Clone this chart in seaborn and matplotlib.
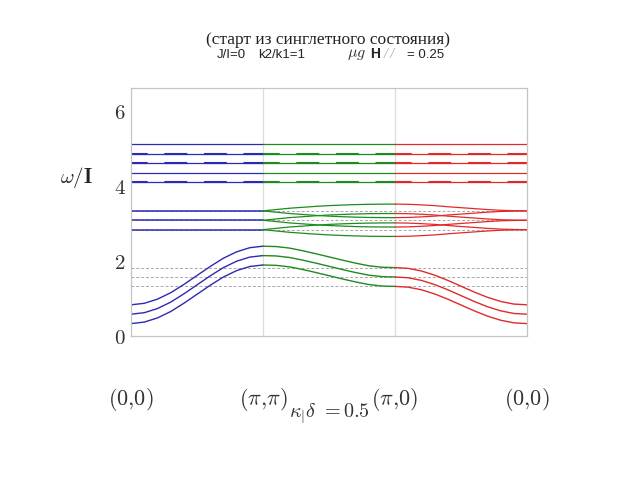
import numpy as np
import pandas as pd
import matplotlib
matplotlib.use("Agg")
import matplotlib.pyplot as plt
import seaborn as sns

# ---------------- data ----------------
seg_t = [0.0, 0.1, 0.2, 0.3, 0.4, 0.5, 0.6, 0.7, 0.8, 0.9, 1.0]
seg_colors = ["#2a2ab4", "#1f8a1f", "#e02a2a"]

# lower (singlet-triplet) band, centre branch on each path segment
low_seg1 = [0.58, 0.62, 0.73, 0.90, 1.12, 1.36, 1.60, 1.82, 1.99, 2.10, 2.14]
low_seg2 = [2.14, 2.13, 2.09, 2.02, 1.94, 1.855, 1.77, 1.69, 1.62, 1.58, 1.57]
low_seg3 = [1.57, 1.55, 1.48, 1.37, 1.23, 1.075, 0.92, 0.78, 0.67, 0.60, 0.58]
zeeman = [0.25, 0.0, -0.25]

# middle band: three levels, each splits on (pi,pi)-(pi,0)-(0,0)
mid_levels = [3.33, 3.08, 2.83]
mid_split_seg2 = [0.0, 0.035, 0.07, 0.095, 0.12, 0.14, 0.155, 0.167, 0.175, 0.179, 0.18]
mid_split_seg3 = [0.18, 0.175, 0.16, 0.14, 0.11, 0.085, 0.06, 0.035, 0.015, 0.005, 0.0]

# upper flat levels
upper_levels = [5.1, 4.85, 4.6, 4.35, 4.1]
upper_dashed = [False, True, True, False, True]

# gray dashed reference levels
ref_levels = [1.82, 1.57, 1.33, 3.33, 3.08, 2.83]

y_ticks = [0, 2, 4, 6]
x_ticks = [0, 1, 2, 3]
x_labels = [r"$(0{,}0)$", r"$(\pi{,}\pi)$", r"$(\pi{,}0)$", r"$(0{,}0)$"]

# ---------------- figure ----------------
sns.set_style("white")
plt.rcParams["mathtext.fontset"] = "cm"
plt.rcParams["font.family"] = ["DejaVu Sans"]

fig = plt.figure(figsize=(6.4, 4.8), dpi=100)
ax = fig.add_axes([131 / 640, 1 - 336 / 480, (527 - 131) / 640, (336 - 88) / 480])

ax.set_xlim(0, 3)
ax.set_ylim(0, 6.6)

# vertical separators
for xv in [1, 2]:
    ax.axvline(xv, color="#dcdcdc", lw=0.9, zorder=0)

# gray dashed reference lines
ax.hlines(ref_levels, 0, 3, colors="#a8a8a8", linestyles=(0, (3, 2)), lw=0.7, zorder=1)

t = np.array(seg_t)
lw_c = 1.0

# lower band
for seg, vals in enumerate([low_seg1, low_seg2, low_seg3]):
    for dz in zeeman:
        sns.lineplot(x=seg + t, y=np.array(vals) + dz, color=seg_colors[seg],
                     lw=lw_c, ax=ax, legend=False, sort=False)

# middle band
for lev in mid_levels:
    sns.lineplot(x=0 + t, y=[lev] * len(t), color=seg_colors[0], lw=1.1,
                 ax=ax, legend=False, sort=False)
    for seg, split in [(1, mid_split_seg2), (2, mid_split_seg3)]:
        for sgn in [1, -1]:
            sns.lineplot(x=seg + t, y=lev + sgn * np.array(split),
                         color=seg_colors[seg], lw=0.9, ax=ax, legend=False, sort=False)

# upper band
for lev, dsh in zip(upper_levels, upper_dashed):
    for seg in range(3):
        sns.lineplot(x=[seg, seg + 1], y=[lev, lev], color=seg_colors[seg],
                     lw=0.9, ax=ax, legend=False, sort=False)
        if dsh:
            sns.lineplot(x=[seg, seg + 1], y=[lev, lev], color=seg_colors[seg],
                         lw=1.5, linestyle=(3, (11, 8)), ax=ax, legend=False, sort=False)

# axes styling
for sp in ax.spines.values():
    sp.set_color("#c4c4c4")
    sp.set_linewidth(0.9)
ax.set_yticks(y_ticks)
ax.set_yticklabels([rf"${v}$" for v in y_ticks], fontsize=15, color="#333333")
ax.tick_params(axis="y", direction="in", length=3, width=0.7, color="#b0b0b0", pad=4)
ax.set_xticks(x_ticks)
ax.set_xticklabels(x_labels, fontsize=16, color="#333333")
ax.tick_params(axis="x", length=0, pad=36)
ax.set_xlabel("")
ax.set_ylabel("")

# y label
fig.text(77 / 640, 1 - 177 / 480, r"$\mathbf{\omega/I}$", fontsize=15,
         ha="center", va="center", color="#222222")

# kappa delta label
fig.text(329 / 640, 1 - 413 / 480, r"$\kappa_{|}\delta\ {=}0.5$", fontsize=14.5,
         ha="center", va="center", color="#333333")

# titles
fig.text(328 / 640, 1 - 40 / 480, "(старт из синглетного состояния)",
         fontsize=12.5, family="Liberation Serif", ha="center", va="center", color="#222222")
fig.text(217 / 640, 1 - 55 / 480, "J/I=0", fontsize=9.5, family="Liberation Sans",
         ha="left", va="center", color="#222222")
fig.text(258 / 640, 1 - 55 / 480, "k2/k1=1", fontsize=9.5, family="Liberation Sans",
         ha="left", va="center", color="#222222")
fig.text(347 / 640, 1 - 54 / 480, r"$\mu g$", fontsize=11.5, ha="left", va="center", color="#333333")
fig.text(370 / 640, 1 - 54 / 480, "H", fontsize=10, family="Liberation Sans", weight="bold",
         ha="left", va="center", color="#222222")
fig.text(384 / 640, 1 - 54 / 480, "/ /", fontsize=10, family="Liberation Serif", style="italic",
         ha="left", va="center", color="#a8a8a8")
fig.text(407 / 640, 1 - 55 / 480, "= 0.25", fontsize=9.5, family="Liberation Sans",
         ha="left", va="center", color="#222222")

fig.savefig("out.png", dpi=100)
